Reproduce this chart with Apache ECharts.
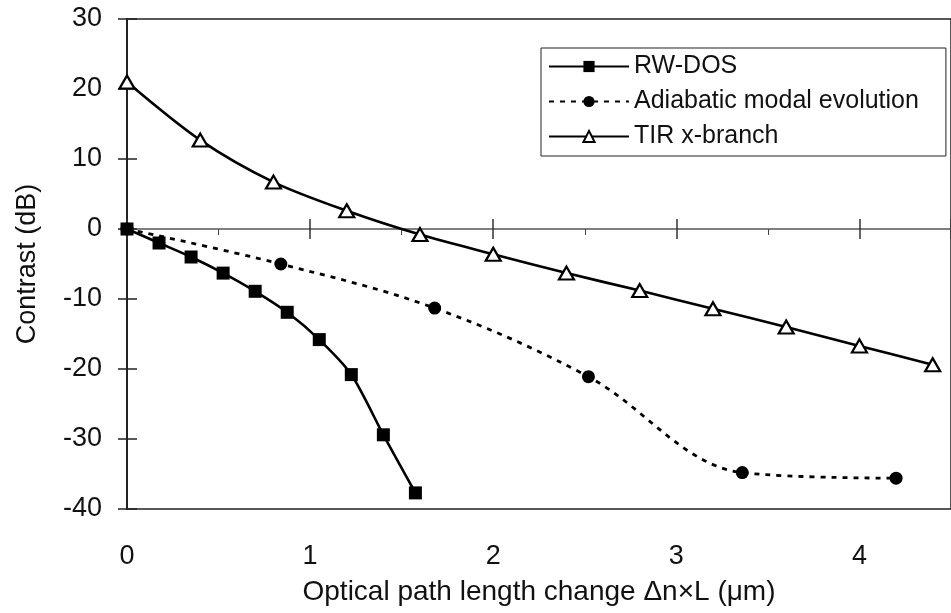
<!DOCTYPE html>
<html>
<head>
<meta charset="utf-8">
<script src="https://cdn.jsdelivr.net/npm/echarts@6/dist/echarts.min.js"></script>
<style>
  html, body { margin: 0; padding: 0; background: #fff; }
  #chart { width: 951px; height: 613px; }
</style>
</head>
<body>
<div id="chart"></div>
<script>
// RW-DOS measurements
const rwX = [0, 0.175, 0.35, 0.525, 0.7, 0.875, 1.05, 1.225, 1.4, 1.575];
const rwY = [0, -2.0, -4.0, -6.3, -8.9, -11.9, -15.8, -20.8, -29.4, -37.7];

// Adiabatic modal evolution measurements
const adX = [0, 0.84, 1.68, 2.52, 3.36, 4.2];
const adY = [0, -5.0, -11.3, -21.1, -34.8, -35.6];

// TIR x-branch measurements
const tirX = [0, 0.4, 0.8, 1.2, 1.6, 2.0, 2.4, 2.8, 3.2, 3.6, 4.0, 4.4];
const tirY = [21.0, 12.7, 6.7, 2.6, -0.8, -3.6, -6.3, -8.8, -11.4, -14.0, -16.7, -19.4];

const seriesNames = ['RW-DOS', 'Adiabatic modal evolution', 'TIR x-branch'];

const xTitle = 'Optical path length change \u0394n\u00d7L (\u03bcm)';
const yTitle = 'Contrast (dB)';

const FONT = '"Liberation Sans", Arial, Helvetica, sans-serif';
const INK = '#111';

const pairs = (xs, ys) => xs.map((x, i) => [x, ys[i]]);

const xBase = { type: 'value', min: 0, max: 4.5, interval: 1, splitLine: { show: false } };
const yBase = { type: 'value', min: -40, max: 30, interval: 10, splitLine: { show: false } };

const chart = echarts.init(document.getElementById('chart'), null, { renderer: 'canvas' });

chart.setOption({
  backgroundColor: '#fff',
  animation: false,
  grid: {
    left: 127, top: 19, bottom: 104, right: -13,
    show: true, borderColor: '#222', borderWidth: 1.5, backgroundColor: '#fff'
  },
  legend: {
    orient: 'vertical',
    left: 541, top: 48,
    padding: [6, 27, 7, 7],
    itemWidth: 80, itemHeight: 14, itemGap: 10,
    borderColor: '#222', borderWidth: 1, borderRadius: 0,
    backgroundColor: '#fff',
    textStyle: { fontFamily: FONT, fontSize: 25, color: INK, lineHeight: 25 },
    data: seriesNames
  },
  xAxis: [
    // labels and title below the plot
    Object.assign({}, xBase, {
      position: 'bottom',
      axisLine: { show: false, onZero: false },
      axisTick: { show: false },
      axisLabel: {
        fontFamily: FONT, fontSize: 27, color: INK, margin: 34, showMaxLabel: false,
        formatter: v => (Number.isInteger(v) ? String(v) : '')
      },
      name: xTitle,
      nameLocation: 'middle',
      nameGap: 69,
      nameTextStyle: { fontFamily: FONT, fontSize: 28, color: INK }
    }),
    // zero line with downward ticks and minor ticks
    Object.assign({}, xBase, {
      position: 'bottom',
      axisLine: { show: true, onZero: true, lineStyle: { color: '#555', width: 1.5 } },
      axisTick: { show: true, inside: false, length: 10, lineStyle: { color: '#333', width: 1.5 } },
      minorTick: { show: true, splitNumber: 2, length: 6, lineStyle: { color: '#444', width: 1 } },
      axisLabel: { show: false }
    }),
    // upward halves of the major ticks on the zero line
    Object.assign({}, xBase, {
      position: 'bottom',
      axisLine: { show: false, onZero: true },
      axisTick: { show: true, inside: true, length: 10, lineStyle: { color: '#333', width: 1.5 } },
      axisLabel: { show: false }
    })
  ],
  yAxis: [
    Object.assign({}, yBase, {
      position: 'left',
      axisLine: { show: true, onZero: false, lineStyle: { color: '#222', width: 2 } },
      axisTick: { show: true, inside: false, length: 9, lineStyle: { color: '#222', width: 1.5 } },
      axisLabel: { fontFamily: FONT, fontSize: 27, color: INK, margin: 25 },
      name: yTitle,
      nameLocation: 'middle',
      nameRotate: 90,
      nameGap: 86,
      nameTextStyle: { fontFamily: FONT, fontSize: 27, color: INK }
    }),
    Object.assign({}, yBase, {
      position: 'left',
      axisLine: { show: false, onZero: false },
      axisTick: { show: true, inside: true, length: 10, lineStyle: { color: '#222', width: 1.5 } },
      axisLabel: { show: false }
    })
  ],
  series: [
    {
      name: seriesNames[0], type: 'line', xAxisIndex: 0, yAxisIndex: 0,
      data: pairs(rwX, rwY), smooth: 0.25,
      symbol: 'rect', symbolSize: 13,
      lineStyle: { color: '#000', width: 2.6 },
      itemStyle: { color: '#000', borderColor: '#000', borderWidth: 0 },
      z: 4
    },
    {
      name: seriesNames[1], type: 'line', xAxisIndex: 0, yAxisIndex: 0,
      data: pairs(adX, adY), smooth: 0.35,
      symbol: 'circle', symbolSize: 13,
      lineStyle: { color: '#000', width: 2.8, type: [5, 6] },
      itemStyle: { color: '#000', borderColor: '#000', borderWidth: 0 },
      z: 3
    },
    {
      name: seriesNames[2], type: 'line', xAxisIndex: 0, yAxisIndex: 0,
      data: pairs(tirX, tirY), smooth: 0.3,
      symbol: 'triangle', symbolSize: [15, 13],
      lineStyle: { color: '#000', width: 2.6 },
      itemStyle: { color: '#fff', borderColor: '#000', borderWidth: 2.2 },
      z: 3
    }
  ]
});
</script>
</body>
</html>
